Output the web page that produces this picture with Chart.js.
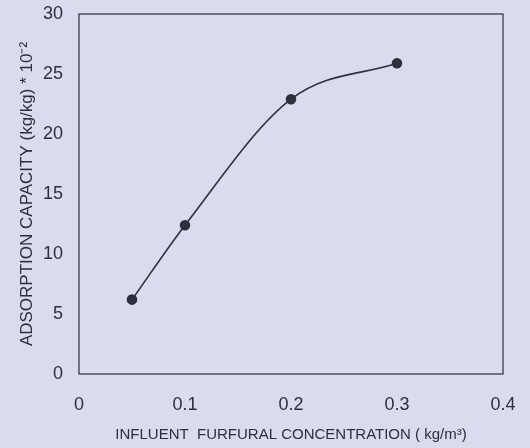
<!DOCTYPE html>
<html>
<head>
<meta charset="utf-8">
<script src="https://cdn.jsdelivr.net/npm/chart.js@4"></script>
<style>
  html, body { margin: 0; padding: 0; background: #d9dcef; }
  #wrap { width: 530px; height: 448px; }
</style>
</head>
<body>
<div id="wrap"><canvas id="capacityChart" width="530" height="448"></canvas></div>
<script>
const concentration = [0.05, 0.1, 0.2, 0.3];
const capacity = [6.2, 12.4, 22.9, 25.9];
const xTicks = [0, 0.1, 0.2, 0.3, 0.4];
const yTicks = [0, 5, 10, 15, 20, 25, 30];

const inkColor = '#2e2f3a';

// draws the box round the plot area
const frameBox = {
    id: 'frameBox',
    afterDraw(chart) {
        const { ctx, chartArea } = chart;
        ctx.save();
        ctx.strokeStyle = inkColor;
        ctx.lineWidth = 1.2;
        ctx.strokeRect(chartArea.left, chartArea.top, chartArea.right - chartArea.left, chartArea.bottom - chartArea.top);
        ctx.restore();
    }
};

const ctx = document.getElementById('capacityChart');
new Chart(ctx, {
    type: 'line',
    data: {
        datasets: [{
            label: 'Adsorption capacity',
            data: concentration.map((x, i) => ({ x: x, y: capacity[i] })),
            borderColor: inkColor,
            borderWidth: 1.6,
            backgroundColor: inkColor,
            pointRadius: 4.5,
            pointBackgroundColor: inkColor,
            cubicInterpolationMode: 'monotone',
            fill: false
        }]
    },
    options: {
        responsive: false,
        animation: false,
        layout: { padding: { left: 13, top: 14, right: 27, bottom: 0 } },
        plugins: {
            legend: { display: false },
            tooltip: { enabled: false }
        },
        scales: {
            x: {
                type: 'linear',
                min: 0,
                max: 0.4,
                afterBuildTicks: (axis) => { axis.ticks = xTicks.map(v => ({ value: v })); },
                grid: { display: false, drawTicks: false },
                border: { display: false },
                ticks: {
                    padding: 20,
                    color: inkColor,
                    font: { family: 'Liberation Sans, Arial, sans-serif', size: 18 },
                    callback: (v) => String(v)
                },
                title: {
                    display: true,
                    text: 'INFLUENT  FURFURAL CONCENTRATION ( kg/m³)',
                    color: inkColor,
                    font: { family: 'Liberation Sans, Arial, sans-serif', size: 15 }
                },
                afterFit: (axis) => {
                    axis.height = 74;
                    axis.paddingLeft = 0;
                    axis.paddingRight = 0;
                }
            },
            y: {
                min: 0,
                max: 30,
                afterBuildTicks: (axis) => { axis.ticks = yTicks.map(v => ({ value: v })); },
                grid: { display: false, drawTicks: false },
                border: { display: false },
                ticks: {
                    padding: 16,
                    color: inkColor,
                    font: { family: 'Liberation Sans, Arial, sans-serif', size: 18 }
                },
                title: {
                    display: true,
                    text: 'ADSORPTION CAPACITY (kg/kg) * 10⁻²',
                    color: inkColor,
                    font: { family: 'Liberation Sans, Arial, sans-serif', size: 17 }
                },
                afterFit: (axis) => {
                    axis.width = 66;
                    axis.paddingTop = 0;
                    axis.paddingBottom = 0;
                }
            }
        }
    },
    plugins: [frameBox]
});
</script>
</body>
</html>
